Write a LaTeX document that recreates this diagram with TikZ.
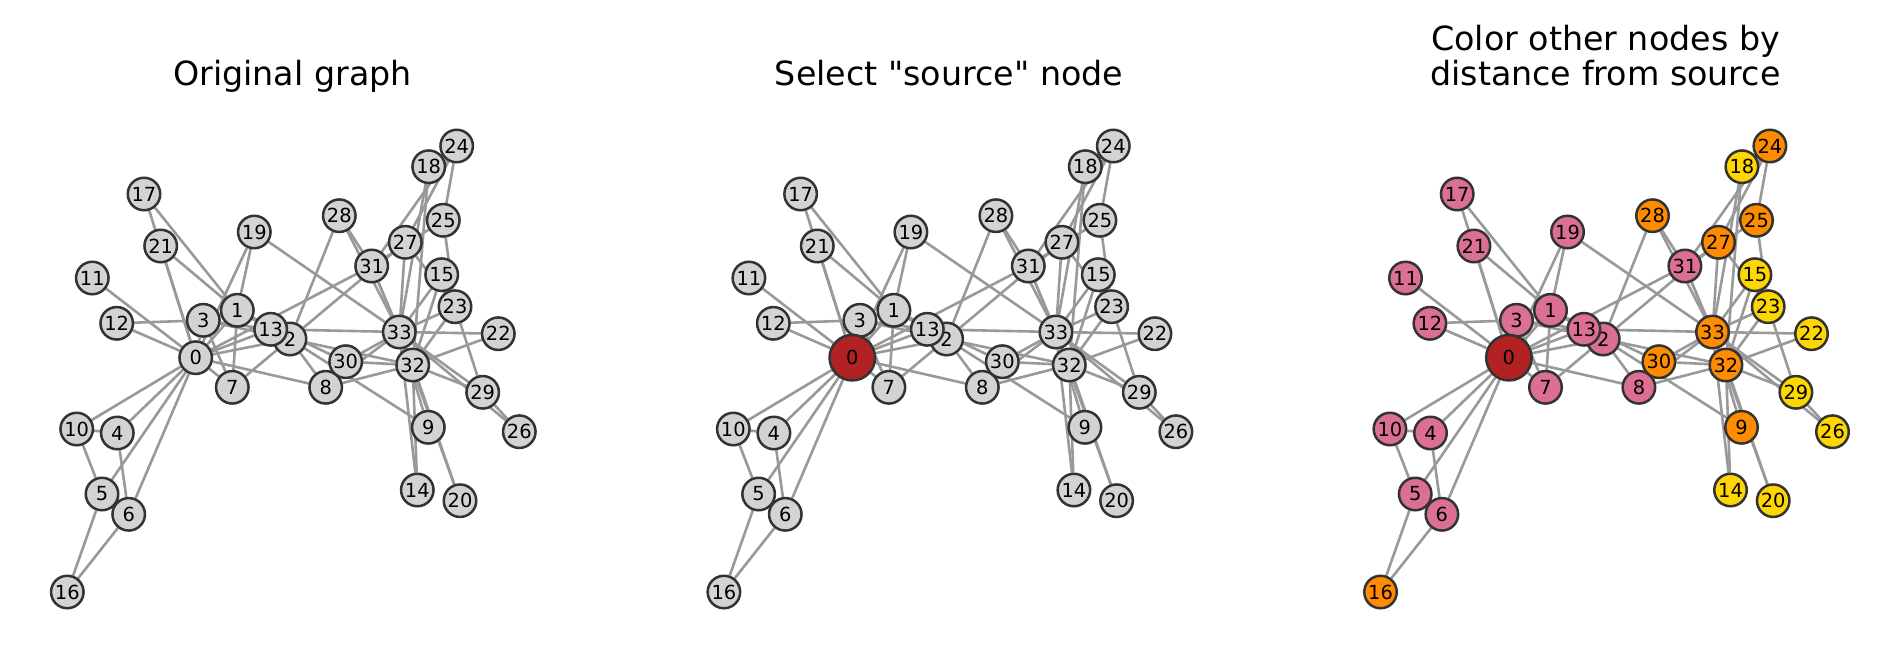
\documentclass[tikz,border=0pt]{standalone}
\usepackage{fontspec}
\setmainfont{DejaVu Sans}[Ligatures=TeXOff]
\definecolor{nodegray}{HTML}{D3D3D3}
\definecolor{nodeedge}{HTML}{333333}
\definecolor{edgegray}{HTML}{999999}
\definecolor{dcol0}{HTML}{B22222}
\definecolor{dcol1}{HTML}{DB7093}
\definecolor{dcol2}{HTML}{FF8C00}
\definecolor{dcol3}{HTML}{FFD700}
\pgfdeclarelayer{edgelayer}
\pgfsetlayers{edgelayer,main}
\begin{document}
\begin{tikzpicture}[x=1pt,y=-1pt,
  vtx/.style={circle,draw=nodeedge,line width=2.5pt,minimum size=32.5pt,inner sep=0pt,
    font=\fontsize{19.4}{20}\selectfont},
  srcvtx/.style={vtx,minimum size=45.5pt},
  link/.style={draw=edgegray,line width=2.6pt},
  paneltitle/.style={inner sep=0pt,align=center,font=\fontsize{33.3}{35}\selectfont}]
\useasboundingbox (0,0) rectangle (1900,659);

% node / x / y / hop distance from node 0
\def\vertices{1/237.3/310.3/1, 2/290/339/1, 3/203.3/320.3/1, 4/117.3/433/1,
  5/102/494/1, 6/128.7/514.3/1, 7/232.3/387.3/1, 8/325.7/387.3/1, 9/428.3/427.3/2,
  10/76.7/429/1, 11/92.3/278/1, 12/116.7/323.3/1, 13/270.7/329.3/1, 14/417.3/490/3,
  15/441.7/274.7/3, 16/67.3/592/2, 17/144/194/1, 18/428.7/166.7/3, 19/254.3/232/1,
  20/460/500.7/3, 21/160.7/246/1, 22/498.3/333.7/3, 23/455/306.7/3, 24/456.7/146/2,
  25/443.3/220.3/2, 26/519.3/431.7/3, 27/405.3/242.3/2, 28/339.3/215.7/2,
  29/482.7/392.3/3, 30/345.7/361.7/2, 31/371.7/266/1, 32/412.7/365/2, 33/399.3/332/2}

\def\links{0/1,0/2,0/3,0/4,0/5,0/6,0/7,0/8,0/10,0/11,0/12,0/13,0/17,0/19,0/21,0/31,
  1/2,1/3,1/7,1/13,1/17,1/19,1/21,1/30,
  2/3,2/7,2/8,2/9,2/13,2/27,2/28,2/32,
  3/7,3/12,3/13, 4/6,4/10, 5/6,5/10,5/16, 6/16, 8/30,8/32,8/33, 9/33, 13/33,
  14/32,14/33, 15/32,15/33, 18/32,18/33, 19/33, 20/32,20/33, 22/32,22/33,
  23/25,23/27,23/29,23/32,23/33, 24/25,24/27,24/31, 25/31, 26/29,26/33, 27/33,
  28/31,28/33, 29/32,29/33, 30/32,30/33, 31/32,31/33, 32/33}

% three copies of the graph, side by side
\foreach \p in {1,2,3} {
  \foreach \i/\x/\y/\d in \vertices {
    \ifnum\p=3 \def\fc{dcol\d}\else\def\fc{nodegray}\fi
    \node[vtx,fill=\fc] (g\p v\i) at ({\x+(\p-1)*656.6},\y) {\i};
  }
}
% node 0 (the source) on top
\node[vtx,fill=nodegray] (g1v0) at (195.7,357.7) {0};
\node[srcvtx,fill=dcol0] (g2v0) at (852.3,357.7) {0};
\node[srcvtx,fill=dcol0] (g3v0) at (1508.9,357.7) {0};

\begin{pgfonlayer}{edgelayer}
  \foreach \p in {1,2,3} {
    \foreach \a/\b in \links {
      \draw[link] (g\p v\a) -- (g\p v\b);
    }
  }
\end{pgfonlayer}

% panel titles
\node[paneltitle,anchor=base] (t1) at (292.5,85) {Original graph};
\node[paneltitle,anchor=base] (t2) at (949,85) {Select "source" node};
\node[paneltitle,anchor=base] (t3) at (1605.5,85) {Color other nodes by\\distance from source};
\end{tikzpicture}
\end{document}
